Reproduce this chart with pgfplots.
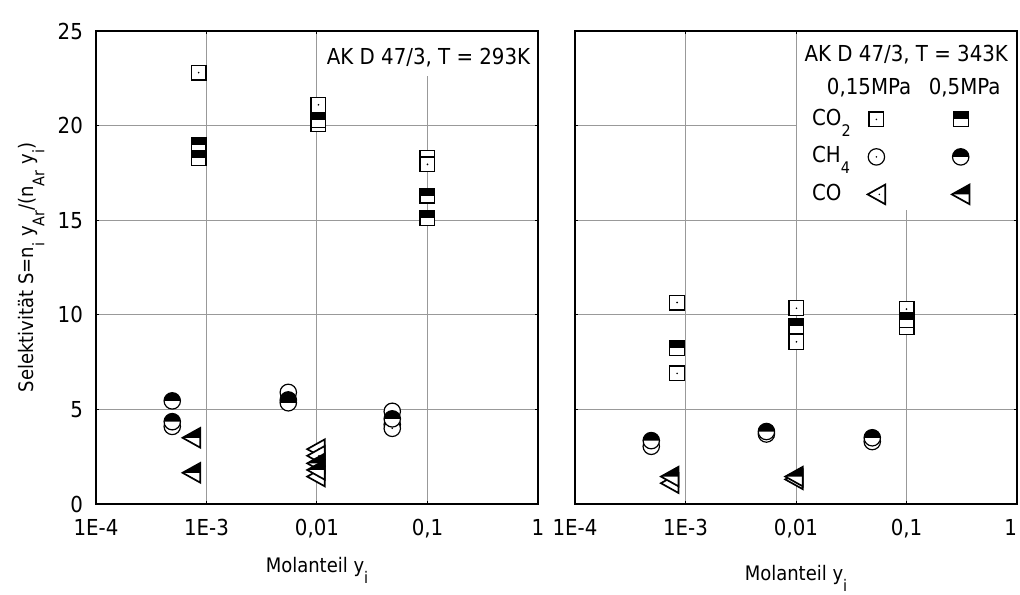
\documentclass[border=0pt]{standalone}
\usepackage{fontspec}
\setmainfont{DejaVu Sans Condensed}
\usepackage{pgfplots}
\pgfplotsset{compat=1.18}

\newcommand{\sub}[1]{\raisebox{-5.5pt}{\fontsize{8}{8}\selectfont #1}}
\newcommand{\fs}{\fontsize{11}{13}\selectfont}

% open square with dot
\pgfdeclareplotmark{osq}{%
 \pgfscope\pgfsetlinewidth{0.6pt}\pgfsetstrokecolor{black}%
 \pgfpathrectangle{\pgfqpoint{-3.7pt}{-3.7pt}}{\pgfqpoint{7.4pt}{7.4pt}}%
 \pgfsetfillcolor{white}\pgfusepath{fill,stroke}%
 \pgfpathcircle{\pgfpointorigin}{0.45pt}\pgfsetfillcolor{black}\pgfusepath{fill}%
 \endpgfscope}
% half filled square
\pgfdeclareplotmark{hsq}{%
 \pgfscope\pgfsetlinewidth{0.6pt}\pgfsetstrokecolor{black}%
 \pgfpathrectangle{\pgfqpoint{-3.7pt}{-3.7pt}}{\pgfqpoint{7.4pt}{7.4pt}}%
 \pgfsetfillcolor{white}\pgfusepath{fill}%
 \pgfpathrectangle{\pgfqpoint{-3.7pt}{0pt}}{\pgfqpoint{7.4pt}{3.7pt}}%
 \pgfsetfillcolor{black}\pgfusepath{fill}%
 \pgfpathrectangle{\pgfqpoint{-3.7pt}{-3.7pt}}{\pgfqpoint{7.4pt}{7.4pt}}%
 \pgfusepath{stroke}%
 \endpgfscope}
% open circle with dot
\pgfdeclareplotmark{ocirc}{%
 \pgfscope\pgfsetlinewidth{0.6pt}\pgfsetstrokecolor{black}%
 \pgfpathcircle{\pgfpointorigin}{4.1pt}%
 \pgfsetfillcolor{white}\pgfusepath{fill,stroke}%
 \pgfpathcircle{\pgfpointorigin}{0.45pt}\pgfsetfillcolor{black}\pgfusepath{fill}%
 \endpgfscope}
% half filled circle
\pgfdeclareplotmark{hcirc}{%
 \pgfscope\pgfsetlinewidth{0.6pt}\pgfsetstrokecolor{black}%
 \pgfpathcircle{\pgfpointorigin}{4.1pt}%
 \pgfsetfillcolor{white}\pgfusepath{fill}%
 \pgfpathmoveto{\pgfqpoint{4.1pt}{0pt}}\pgfpatharc{0}{180}{4.1pt}\pgfpathclose
 \pgfsetfillcolor{black}\pgfusepath{fill}%
 \pgfpathcircle{\pgfpointorigin}{4.1pt}\pgfusepath{stroke}%
 \endpgfscope}
% open triangle (pointing left) with dot
\pgfdeclareplotmark{otri}{%
 \pgfscope\pgfsetlinewidth{0.85pt}\pgfsetstrokecolor{black}%
 \pgfpathmoveto{\pgfqpoint{-4.4pt}{0pt}}\pgfpathlineto{\pgfqpoint{4.4pt}{4.9pt}}%
 \pgfpathlineto{\pgfqpoint{4.4pt}{-4.9pt}}\pgfpathclose
 \pgfsetfillcolor{white}\pgfusepath{fill,stroke}%
 \pgfpathcircle{\pgfqpoint{1.45pt}{0pt}}{0.45pt}\pgfsetfillcolor{black}\pgfusepath{fill}%
 \endpgfscope}
% half filled triangle
\pgfdeclareplotmark{htri}{%
 \pgfscope\pgfsetlinewidth{0.85pt}\pgfsetstrokecolor{black}%
 \pgfpathmoveto{\pgfqpoint{-4.4pt}{0pt}}\pgfpathlineto{\pgfqpoint{4.4pt}{4.9pt}}%
 \pgfpathlineto{\pgfqpoint{4.4pt}{-4.9pt}}\pgfpathclose
 \pgfsetfillcolor{white}\pgfusepath{fill}%
 \pgfpathmoveto{\pgfqpoint{-4.4pt}{0pt}}\pgfpathlineto{\pgfqpoint{4.4pt}{4.9pt}}%
 \pgfpathlineto{\pgfqpoint{4.4pt}{0pt}}\pgfpathclose
 \pgfsetfillcolor{black}\pgfusepath{fill}%
 \pgfpathmoveto{\pgfqpoint{-4.4pt}{0pt}}\pgfpathlineto{\pgfqpoint{4.4pt}{4.9pt}}%
 \pgfpathlineto{\pgfqpoint{4.4pt}{-4.9pt}}\pgfpathclose
 \pgfusepath{stroke}%
 \endpgfscope}

\pgfplotsset{
 myaxis/.style={
  scale only axis, width=221pt, height=236.5pt,
  xmin=1e-4, xmax=1, ymin=0, ymax=25,
  xtick={1e-4,1e-3,1e-2,1e-1,1},
  xminorticks=false, yminorticks=false,
  ytick={0,5,10,15,20,25},
  grid=major, major grid style={gray!80, line width=0.5pt},
  tick align=inside, major tick length=1.5pt,
  tick style={black, line width=0.5pt},
  axis line style={line width=0.6pt},
  xticklabel style={anchor=base, yshift=-15.5pt},
  yticklabel style={anchor=east, xshift=-3pt},
  tick label style={font=\fs},
  label style={font=\fontsize{11.5}{13}\selectfont},
  xlabel={Molanteil y\sub{i}},
 }
}

\begin{document}
\begin{tikzpicture}
\useasboundingbox (-48pt,-45pt) rectangle (462pt,252pt);

% ---------------- left panel: T = 293 K ----------------
\begin{semilogxaxis}[myaxis, at={(0pt,0pt)}, anchor=south west,
  xticklabels={1E-4,1E-3,{0,01},{0,1},1},
  yticklabels={0,5,10,15,20,25},
  every axis x label/.style={at={(axis description cs:0.5,0)}, anchor=base, yshift=-34pt},
  every axis y label/.style={at={(axis description cs:-0.1419,0.5)}, rotate=90, anchor=base},
  ylabel={Selektivität S=n\sub{i} y\sub{Ar}/(n\sub{Ar} y\sub{i})},
]
\addplot[forget plot, only marks, mark=osq] coordinates {(8.5e-4,22.8) (1.03e-2,21.1) (1.03e-2,20.1) (0.1,18.3) (0.1,17.95)};
\addplot[forget plot, only marks, mark=hsq] coordinates {(8.5e-4,19.0) (8.5e-4,18.3) (1.03e-2,20.3) (0.1,16.3) (0.1,15.1)};
\addplot[forget plot, only marks, mark=ocirc] coordinates {(4.9e-4,4.1) (5.5e-3,5.9) (0.048,4.9) (0.048,4.2) (0.048,4.0)};
\addplot[forget plot, only marks, mark=hcirc] coordinates {(4.9e-4,5.45) (4.9e-4,4.35) (5.5e-3,5.5) (5.5e-3,5.35) (0.048,4.5)};
\addplot[forget plot, only marks, mark=otri] coordinates {(9.8e-3,2.9) (9.8e-3,2.55) (9.8e-3,1.45)};
\addplot[forget plot, only marks, mark=htri] coordinates {(7.3e-4,3.5) (7.3e-4,1.65) (9.8e-3,2.15) (9.8e-3,1.8)};
\node[fill=white, inner sep=0pt, minimum width=108.8pt, minimum height=22.1pt, anchor=north east, xshift=-0.35pt, yshift=-0.35pt] at (rel axis cs:1,1) {};
\node[anchor=base east, inner sep=0pt, font=\fs, xshift=-3.7pt, yshift=-17pt] at (rel axis cs:1,1) {AK D 47/3, T = 293K};
\end{semilogxaxis}

% ---------------- right panel: T = 343 K ----------------
\begin{semilogxaxis}[myaxis, at={(239.5pt,0pt)}, anchor=south west,
  xticklabels={1E-4,1E-3,{0,01},{0,1},\makebox[0pt][r]{1}},
  yticklabels={{},{},{},{},{},{}},
  every axis x label/.style={at={(axis description cs:0.5,0)}, anchor=base, yshift=-38pt},
  legend columns=3,
  legend cell align=left,
  legend image code/.code={\path[draw=none,fill=none] (-5pt,0pt) (5pt,0pt); \draw[#1] plot coordinates {(0pt,0pt)};},
  legend style={at={(axis description cs:0,1)}, anchor=north west, xshift=118.35pt, yshift=-37.5pt,
    draw=none, fill=none, inner sep=0pt, font=\fs, row sep=5.75pt, column sep=0pt,
    cells={anchor=west}, nodes={inner sep=0pt, text height=9.5pt, text depth=3.5pt},
    /tikz/column 2/.style={column sep=11.15pt},
    /tikz/column 4/.style={column sep=31.15pt}},
]
\addplot[forget plot, only marks, mark=osq] coordinates {(8.4e-4,10.65) (8.4e-4,6.9) (1.01e-2,10.35) (1.01e-2,8.57) (0.1,10.3) (0.1,9.35)};
\addplot[forget plot, only marks, mark=hsq] coordinates {(8.4e-4,8.25) (1.01e-2,9.4) (0.1,9.7)};
\addplot[forget plot, only marks, mark=ocirc] coordinates {(4.9e-4,3.05) (5.4e-3,3.7) (0.049,3.3)};
\addplot[forget plot, only marks, mark=hcirc] coordinates {(4.9e-4,3.35) (5.4e-3,3.83) (0.049,3.5)};
\addplot[forget plot, only marks, mark=otri] coordinates {(7.2e-4,1.1) (9.6e-3,1.3)};
\addplot[forget plot, only marks, mark=htri] coordinates {(7.2e-4,1.45) (9.6e-3,1.45)};

\node[fill=white, inner sep=0pt, minimum width=109.2pt, minimum height=89pt, anchor=north east, xshift=-0.35pt, yshift=-0.35pt] at (rel axis cs:1,1) {};
\node[anchor=base east, inner sep=0pt, font=\fs, xshift=-4.3pt, yshift=-15.5pt] at (rel axis cs:1,1) {AK D 47/3, T = 343K};
\node[anchor=base, inner sep=0pt, font=\fs, xshift=-73.95pt, yshift=-32pt] at (rel axis cs:1,1) {0,15MPa};
\node[anchor=base, inner sep=0pt, font=\fs, xshift=-26.2pt, yshift=-32pt] at (rel axis cs:1,1) {0,5MPa};

\addlegendimage{empty legend}\addlegendentry{\makebox[16pt][l]{CO\sub{2}}}
\addlegendimage{only marks, mark=osq}\addlegendentry{}
\addlegendimage{only marks, mark=hsq}\addlegendentry{}
\addlegendimage{empty legend}\addlegendentry{\makebox[16pt][l]{CH\sub{4}}}
\addlegendimage{only marks, mark=ocirc}\addlegendentry{}
\addlegendimage{only marks, mark=hcirc}\addlegendentry{}
\addlegendimage{empty legend}\addlegendentry{\makebox[16pt][l]{CO}}
\addlegendimage{only marks, mark=otri}\addlegendentry{}
\addlegendimage{only marks, mark=htri}\addlegendentry{}
\end{semilogxaxis}
\end{tikzpicture}
\end{document}
